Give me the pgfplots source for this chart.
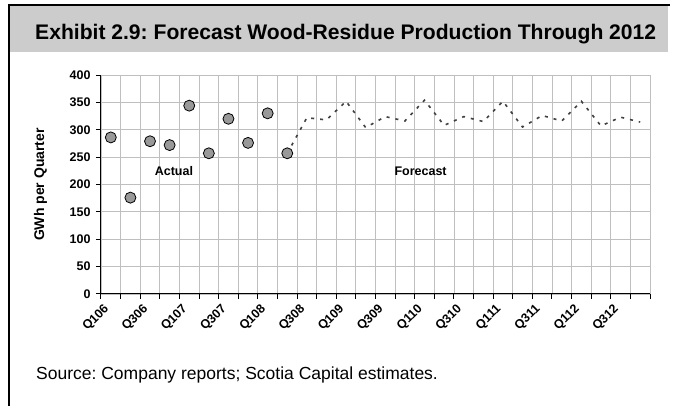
\documentclass[border=0pt]{standalone}
\usepackage{pgfplots}
\pgfplotsset{compat=1.18}
\usepackage{fontspec}
\setmainfont{Liberation Sans}
\frenchspacing

\begin{document}
\begin{tikzpicture}
\useasboundingbox (0,0) rectangle (673pt,-406pt);
% frame and title band
\fill[gray!40] (10pt,-6pt) rectangle (668pt,-52pt);
\draw[black, line width=2pt] (8pt,-5pt) -- (670pt,-5pt);
\draw[black, line width=2pt] (9pt,-4pt) -- (9pt,-406pt);
\node[anchor=base west, font=\bfseries\fontsize{21.1}{24}\selectfont, inner sep=0pt] at (35pt,-39.5pt)
  {Exhibit 2.9: Forecast Wood-Residue Production Through 2012};
\node[anchor=base west, font=\fontsize{17.5}{20}\selectfont, inner sep=0pt] at (36pt,-380pt)
  {Source: Company reports; Scotia Capital estimates.};

\begin{axis}[
  at={(101pt,-294pt)}, anchor=south west,
  scale only axis, width=549pt, height=219pt,
  xmin=0, xmax=28, ymin=0, ymax=400,
  ytick={0,50,...,400},
  xtick={0.5,2.5,...,26.5},
  xticklabels={Q106,Q306,Q107,Q307,Q108,Q308,Q109,Q309,Q110,Q310,Q111,Q311,Q112,Q312},
  minor xtick={0,...,28},
  ymajorgrids, xminorgrids,
  major grid style={gray!50, line width=0.8pt},
  minor grid style={gray!50, line width=0.8pt},
  axis x line=bottom, axis y line=left,
  axis line style={black, line width=1pt, -},
  tick style={black, line width=1pt},
  major tick length=5pt, minor tick length=5pt, tick align=outside,
  major x tick style={draw=none},
  /pgf/number format/assume math mode=true,
  yticklabel style={font=\bfseries\fontsize{12.5}{14}\selectfont, xshift=-2pt},
  xticklabel style={rotate=45, anchor=east, xshift=-5pt, yshift=-3pt,
    font=\bfseries\fontsize{12.5}{14}\selectfont},
  ylabel={GWh per Quarter},
  ylabel style={at={(axis description cs:-0.11,0.5)}, anchor=center,
    font=\bfseries\fontsize{14}{16}\selectfont},
  clip=false,
]
% forecast (starts at last actual quarter)
\addplot[black!75, line width=1.6pt, dash pattern=on 3pt off 6pt, no marks] coordinates {
  (9.5,257) (10.5,322) (11.5,318) (12.5,352) (13.5,304) (14.5,324) (15.5,316)
  (16.5,354) (17.5,308) (18.5,324) (19.5,315) (20.5,352) (21.5,305) (22.5,326)
  (23.5,316) (24.5,352) (25.5,307) (26.5,323) (27.5,314)
};
% actual
\addplot[only marks, mark=*, mark size=5.5pt, mark options={fill=gray!80, draw=black, line width=0.8pt}] coordinates {
  (0.5,286) (1.5,176) (2.5,279) (3.5,272) (4.5,344)
  (5.5,257) (6.5,320) (7.5,276) (8.5,330) (9.5,257)
};
\node[font=\bfseries\fontsize{12.5}{14}\selectfont] at (axis cs:3.72,225) {Actual};
\node[font=\bfseries\fontsize{12.5}{14}\selectfont] at (axis cs:16.3,225) {Forecast};
\end{axis}
\end{tikzpicture}
\end{document}
